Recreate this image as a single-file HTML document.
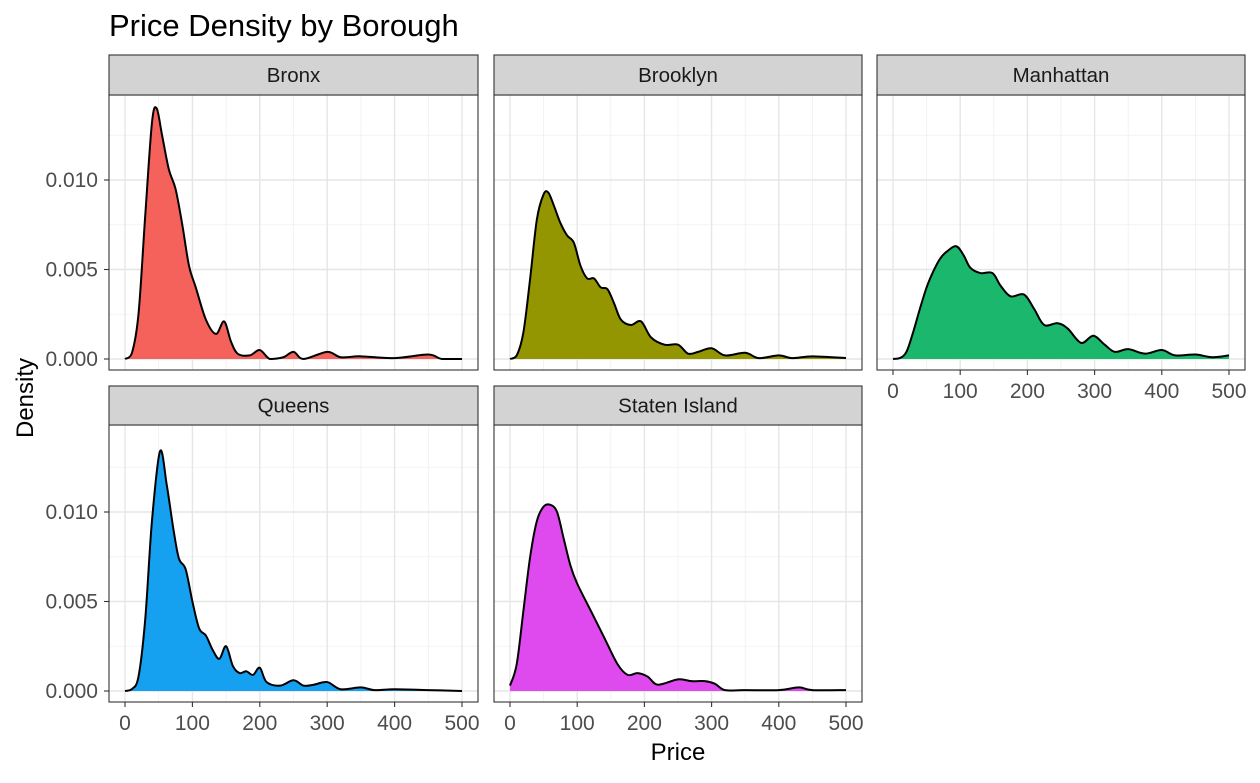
<!DOCTYPE html>
<html><head><meta charset="utf-8"><style>
body{margin:0;background:#fff;}
svg text{font-family:"Liberation Sans",Arial,sans-serif;}
</style></head><body>
<svg id="c" width="1260" height="778" xmlns="http://www.w3.org/2000/svg">
<text x="109" y="36" font-size="31" fill="#000">Price Density by Borough</text>
<text x="678" y="760" font-size="24" text-anchor="middle">Price</text>
<text transform="translate(33,398) rotate(-90)" font-size="24" text-anchor="middle">Density</text>
</svg>
<script>
const boroughs=["Bronx","Brooklyn","Manhattan","Queens","Staten Island"];
const colors=["#F5625C","#939600","#1BB76D","#16A0F0","#DE4AEE"];
const bronxX=[0,10,20,30,40,47,55,65,75,85,95,105,120,135,147,157,167,185,200,215,235,250,265,300,320,350,400,450,470,500];
const bronxY=[0,0.3,2.5,8,13.2,14.0,12.5,10.6,9.5,7.5,5.2,4.0,2.2,1.4,2.1,1.0,0.3,0.2,0.5,0.0,0.1,0.4,0.0,0.4,0.1,0.15,0.05,0.25,0.0,0];
const brooklynX=[0,10,20,30,40,50,57,65,75,85,95,105,115,125,135,145,155,165,180,195,210,230,250,265,280,300,320,350,370,400,420,450,500];
const brooklynY=[0,0.2,1.5,4.5,7.8,9.2,9.3,8.6,7.6,6.9,6.5,5.2,4.5,4.5,4.0,3.9,3.1,2.2,1.9,2.1,1.2,0.8,0.8,0.3,0.4,0.6,0.2,0.35,0.05,0.2,0.05,0.15,0.05];
const manhattanX=[0,10,20,30,40,50,60,70,80,94,105,115,130,148,160,175,195,210,225,245,260,280,298,315,330,350,375,400,420,450,475,500];
const manhattanY=[0,0.05,0.4,1.5,2.8,4.0,4.9,5.6,6.0,6.3,5.8,5.1,4.8,4.8,4.1,3.5,3.6,2.8,1.9,2.0,1.7,0.9,1.3,0.8,0.4,0.55,0.3,0.5,0.2,0.25,0.1,0.2];
const queensX=[0,10,20,30,40,52,62,72,80,90,100,110,120,130,140,150,160,170,180,190,200,210,230,250,265,280,300,320,350,370,400,450,500];
const queensY=[0,0.1,0.8,4,9.5,13.4,11.5,9.0,7.4,6.8,5.0,3.5,3.1,2.3,1.8,2.5,1.4,1.0,1.1,0.9,1.3,0.5,0.3,0.6,0.3,0.35,0.5,0.1,0.2,0.05,0.1,0.05,0];
const statenX=[0,10,20,30,40,50,60,70,80,90,100,120,140,160,175,190,205,220,250,270,290,305,320,350,400,430,450,500];
const statenY=[0.3,1.5,4.5,7.5,9.5,10.3,10.4,10.0,8.5,7.0,6.0,4.5,3.0,1.5,0.9,1.0,0.8,0.35,0.65,0.55,0.55,0.4,0.05,0.05,0.05,0.2,0.05,0.05];
const xTicks=[0,100,200,300,400,500];
const yTicks=[0,0.005,0.010];
const yTickLabels=["0.000","0.005","0.010"];
const seriesX=[bronxX,brooklynX,manhattanX,queensX,statenX];
const seriesY=[bronxY,brooklynY,manhattanY,queensY,statenY];

const svg=document.getElementById('c');
const NS="http://www.w3.org/2000/svg";
function mk(tag,attrs,parent){const e=document.createElementNS(NS,tag);for(const k in attrs)e.setAttribute(k,attrs[k]);(parent||svg).appendChild(e);return e;}
const panels=[{l:109,r:478,t:95,b:370,s:55},{l:494,r:862,t:95,b:370,s:55},{l:877,r:1245,t:95,b:370,s:55},{l:109,r:478,t:425,b:702,s:386},{l:494,r:862,t:425,b:702,s:386}];
panels.forEach((p,i)=>{
  const x0=p.l+16, xs=(p.r-16-x0)/500;
  const X=v=>x0+v*xs;
  const y0=p.b-11, ys=17.9;
  const Y=d=>y0-d*1000*ys;
  const g=mk('g',{});
  
  
  mk('rect',{x:p.l,y:p.t,width:p.r-p.l,height:p.b-p.t,fill:'#fff'},g);
  for(let v=50;v<=450;v+=100)mk('line',{x1:X(v),x2:X(v),y1:p.t,y2:p.b,stroke:'#f0f0f0','stroke-width':0.8},g);
  [0.0025,0.0075,0.0125].forEach(v=>mk('line',{x1:p.l,x2:p.r,y1:Y(v),y2:Y(v),stroke:'#f0f0f0','stroke-width':0.8},g));
  xTicks.forEach(v=>mk('line',{x1:X(v),x2:X(v),y1:p.t,y2:p.b,stroke:'#e6e6e6','stroke-width':1.4},g));
  yTicks.forEach(v=>mk('line',{x1:p.l,x2:p.r,y1:Y(v),y2:Y(v),stroke:'#e6e6e6','stroke-width':1.4},g));
  const xs_=seriesX[i], ysArr=seriesY[i];
  const pts=xs_.map((v,k)=>[X(v),y0-ysArr[k]*ys]);
  let d='M'+pts[0][0]+','+pts[0][1];
  for(let k=0;k<pts.length-1;k++){
    const p0=pts[Math.max(0,k-1)],p1=pts[k],p2=pts[k+1],p3=pts[Math.min(pts.length-1,k+2)];
    const c1=[p1[0]+(p2[0]-p0[0])/6,p1[1]+(p2[1]-p0[1])/6];
    const c2=[p2[0]-(p3[0]-p1[0])/6,p2[1]-(p3[1]-p1[1])/6];
    d+=` C${c1[0]},${Math.min(c1[1],y0)} ${c2[0]},${Math.min(c2[1],y0)} ${p2[0]},${p2[1]}`;
  }
  const area=mk('path',{d:d+` L${pts[pts.length-1][0]},${y0} L${pts[0][0]},${y0} Z`,fill:colors[i]},g);
  
  
  const line=mk('path',{d:d,fill:'none',stroke:'#000','stroke-width':2},g);
  
  
  mk('rect',{x:p.l,y:p.t,width:p.r-p.l,height:p.b-p.t,fill:'none',stroke:'#333','stroke-width':1.1},g);
  const st=mk('rect',{x:p.l,y:p.s,width:p.r-p.l,height:p.t-p.s,fill:'#d3d3d3',stroke:'#333','stroke-width':1.1},g);
  
  
  const tt=mk('text',{x:(p.l+p.r)/2,y:(p.s+p.t)/2+7,'font-size':20.5,'text-anchor':'middle',fill:'#1a1a1a'},g);
  tt.textContent=boroughs[i];
  
  
  if(i>=2){
    xTicks.forEach(v=>{
      mk('line',{x1:X(v),x2:X(v),y1:p.b,y2:p.b+5,stroke:'#333','stroke-width':1.1},g);
      const t=mk('text',{x:X(v),y:p.b+28,'font-size':21,'text-anchor':'middle',fill:'#4d4d4d'},g);
      t.textContent=v;
      
      
    });
  }
  if(i===0||i===3){
    yTicks.forEach((v,k)=>{
      mk('line',{x1:p.l-5,x2:p.l,y1:Y(v),y2:Y(v),stroke:'#333','stroke-width':1.1},g);
      const t=mk('text',{x:p.l-11,y:Y(v)+7,'font-size':21,'text-anchor':'end',fill:'#4d4d4d'},g);
      t.textContent=yTickLabels[k];
      
      
    });
  }
});
</script>
</body></html>
